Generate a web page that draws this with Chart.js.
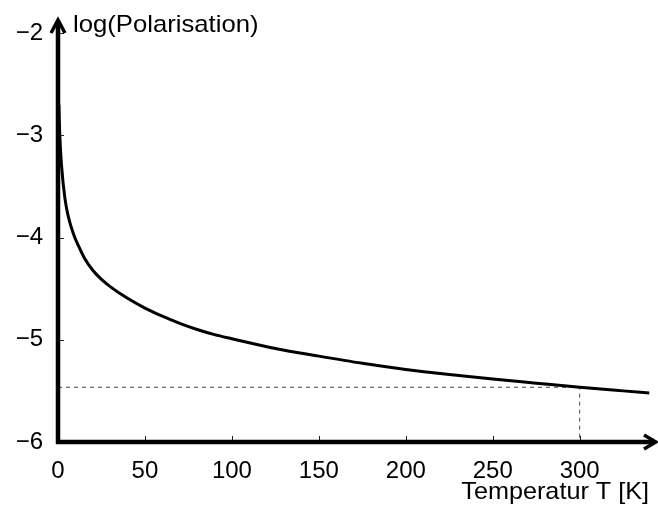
<!DOCTYPE html>
<html>
<head>
<meta charset="utf-8">
<script src="https://cdn.jsdelivr.net/npm/chart.js@4/dist/chart.umd.min.js"></script>
<style>
  html, body { margin: 0; padding: 0; background: #fff; }
  #wrap { width: 658px; height: 506px; position: relative; }
</style>
</head>
<body>
<div id="wrap"><canvas id="c" width="658" height="506"></canvas></div>
<script>
// Temperature T [K] and log(Polarisation)
const temperatures = [0.5, 1, 2, 4, 6, 9, 12, 15, 20, 25, 30, 40, 50, 60, 70, 80, 90, 100, 125, 150, 175, 200, 225, 250, 275, 300, 325, 340];
const logPolarisation = [-2.7, -2.99, -3.29, -3.62, -3.8, -3.97, -4.09, -4.195, -4.32, -4.41, -4.48, -4.595, -4.69, -4.77, -4.84, -4.9, -4.95, -4.99, -5.085, -5.16, -5.23, -5.29, -5.34, -5.385, -5.425, -5.465, -5.5, -5.52];
// Reference marker at room temperature
const markerT = [0, 300, 300];
const markerLog = [-5.465, -5.465, -6];
// Tick labels
const xTicks = [0, 50, 100, 150, 200, 250, 300];
const yTicks = [-6, -5, -4, -3, -2];
const xTitle = 'Temperatur T [K]';
const yTitle = 'log(Polarisation)';

const FONT = "'Liberation Sans', Arial, sans-serif";

function wideText(ctx, text, x, y, align, sx) {
  ctx.save();
  ctx.translate(x, y);
  ctx.scale(sx, 1);
  ctx.textAlign = align;
  ctx.fillText(text, 0, 0);
  ctx.restore();
}

const axesPlugin = {
  id: 'arrowAxes',
  afterDatasetsDraw(chart) {
    const ctx = chart.ctx;
    const xs = chart.scales.x, ys = chart.scales.y;
    const x0 = xs.getPixelForValue(0);
    const y0 = ys.getPixelForValue(-6);
    ctx.save();
    // tick marks
    ctx.strokeStyle = '#222';
    ctx.lineWidth = 1;
    ctx.beginPath();
    xTicks.forEach(v => {
      if (v === 0) return;
      const px = Math.round(xs.getPixelForValue(v)) + 0.5;
      ctx.moveTo(px, y0); ctx.lineTo(px, y0 - 6);
    });
    yTicks.forEach(v => {
      if (v === -6) return;
      const py = Math.round(ys.getPixelForValue(v)) + 0.5;
      ctx.moveTo(x0, py); ctx.lineTo(x0 + 6, py);
    });
    ctx.stroke();
    // axes lines
    ctx.strokeStyle = '#000';
    ctx.lineWidth = 4.5;
    ctx.lineCap = 'butt';
    ctx.beginPath();
    ctx.moveTo(x0, y0 + 2);
    ctx.lineTo(x0, 21);
    ctx.moveTo(x0 - 2, y0);
    ctx.lineTo(655, y0);
    ctx.stroke();
    // arrowheads
    ctx.lineWidth = 3.5;
    ctx.lineJoin = 'miter';
    ctx.beginPath();
    ctx.moveTo(x0 - 7, 33);
    ctx.lineTo(x0, 20);
    ctx.lineTo(x0 + 7, 33);
    ctx.moveTo(644, y0 - 7);
    ctx.lineTo(656, y0);
    ctx.lineTo(644, y0 + 7);
    ctx.stroke();
    // axis titles
    ctx.fillStyle = '#000';
    ctx.font = '24px ' + FONT;
    ctx.textBaseline = 'alphabetic';
    wideText(ctx, yTitle, 73, 32, 'left', 1.07);
    wideText(ctx, xTitle, 649, 499, 'right', 1.05);
    ctx.restore();
  }
};

new Chart(document.getElementById('c'), {
  type: 'line',
  data: {
    datasets: [
      {
        data: temperatures.map((t, i) => ({ x: t, y: logPolarisation[i] })),
        borderColor: '#000',
        borderWidth: 3,
        pointRadius: 0,
        cubicInterpolationMode: 'monotone',
        fill: false
      },
      {
        data: markerT.map((t, i) => ({ x: t, y: markerLog[i] })),
        borderColor: '#444',
        borderWidth: 1,
        borderDash: [4, 4],
        pointRadius: 0,
        tension: 0,
        fill: false
      }
    ]
  },
  options: {
    responsive: false,
    animation: false,
    events: [],
    layout: { padding: { top: 33, right: 7, left: 0, bottom: 0 } },
    plugins: { legend: { display: false }, tooltip: { enabled: false }, title: { display: false } },
    scales: {
      x: {
        type: 'linear',
        min: 0,
        max: 341,
        grid: { display: false, drawTicks: false },
        border: { display: false },
        afterBuildTicks: axis => { axis.ticks = xTicks.map(v => ({ value: v })); },
        afterFit: scale => { scale.height = 64; },
        ticks: {
          color: '#000',
          padding: 15,
          maxRotation: 0,
          autoSkip: false,
          font: { family: FONT, size: 24 },
          callback: v => String(v)
        }
      },
      y: {
        type: 'linear',
        min: -6,
        max: -2,
        grid: { display: false, drawTicks: false },
        border: { display: false },
        afterBuildTicks: axis => { axis.ticks = yTicks.map(v => ({ value: v })); },
        afterFit: scale => { scale.width = 58; },
        ticks: {
          color: '#000',
          padding: 15,
          autoSkip: false,
          font: { family: FONT, size: 24 },
          callback: v => '\u2212' + Math.abs(v)
        }
      }
    }
  },
  plugins: [axesPlugin]
});
</script>
</body>
</html>
